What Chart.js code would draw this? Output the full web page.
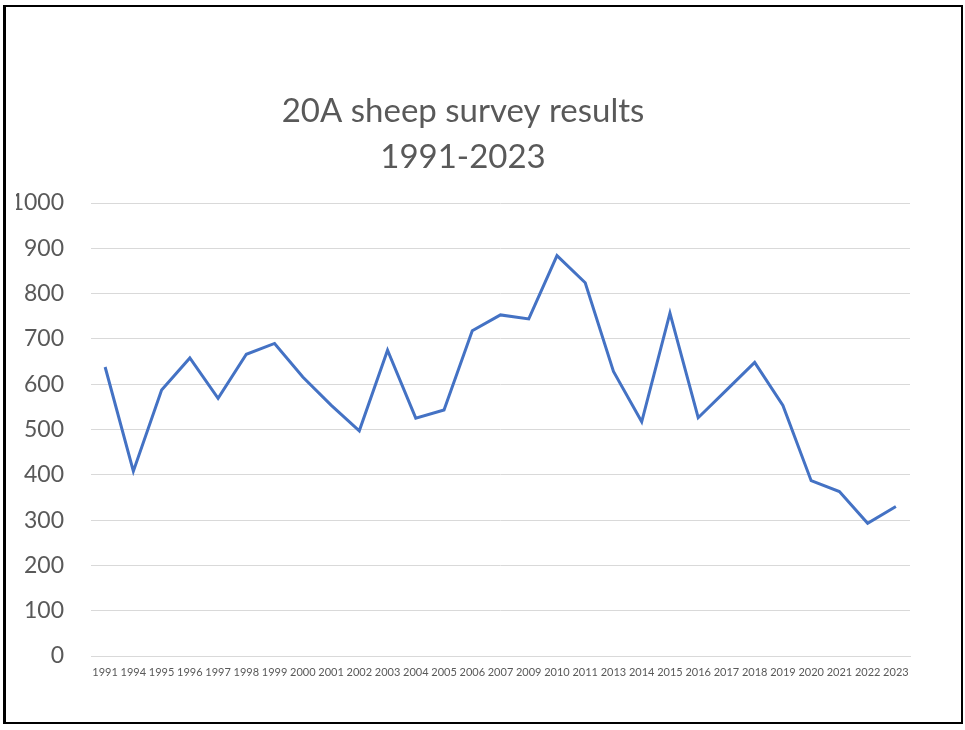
<!DOCTYPE html>
<html>
<head>
<meta charset="utf-8">
<script src="https://cdn.jsdelivr.net/npm/chart.js@4"></script>
<style>
  html, body { margin: 0; padding: 0; background: #fff; }
  #wrap { position: relative; width: 965px; height: 730px; }
  #frame { position: absolute; left: 3px; top: 5px; width: 960px; height: 719px; box-sizing: border-box; border: 2px solid #000; border-left-width: 3px; pointer-events: none; }
  canvas { position: absolute; left: 0; top: 0; }
</style>
</head>
<body>
<div id="wrap">
  <canvas id="c" width="965" height="730"></canvas>
  <div id="frame"></div>
</div>
<script>
const titleLines = ["20A sheep survey results", "1991-2023"];
const years = ["1991","1994","1995","1996","1997","1998","1999","2000","2001","2002","2003","2004","2005","2006","2007","2009","2010","2011","2013","2014","2015","2016","2017","2018","2019","2020","2021","2022","2023"];
const sheepCounts = [638,408,587,658,569,666,690,616,554,497,675,525,543,718,753,744,884,824,628,517,757,526,587,648,553,387,363,293,330];
const yTicks = [0,100,200,300,400,500,600,700,800,900,1000];

const gray = '#595959';
new Chart(document.getElementById('c'), {
  type: 'line',
  data: {
    labels: years,
    datasets: [{
      label: 'Sheep',
      data: sheepCounts,
      borderColor: '#4472C4',
      borderWidth: 3,
      pointRadius: 0,
      tension: 0,
      fill: false
    }]
  },
  options: {
    responsive: false,
    animation: false,
    layout: { padding: { left: 16, right: 55, top: 0, bottom: 0 } },
    plugins: {
      legend: { display: false },
      tooltip: { enabled: false },
      title: {
        display: true,
        text: titleLines,
        color: gray,
        font: { family: 'Lato', size: 33, weight: 'normal', lineHeight: 1.394 },
        padding: { top: 88, bottom: 23 }
      }
    },
    scales: {
      x: {
        offset: true,
        grid: { display: false, drawTicks: false },
        border: { display: true, color: '#D9D9D9', width: 1 },
        ticks: {
          color: gray,
          font: { family: 'Lato', size: 11 },
          autoSkip: false,
          maxRotation: 0,
          minRotation: 0,
          padding: 10
        },
        afterFit: (s) => { s.height = 74; }
      },
      y: {
        min: 0,
        max: 1000,
        afterBuildTicks: (s) => { s.ticks = yTicks.map(v => ({ value: v })); },
        grid: { color: '#D9D9D9', lineWidth: 1, drawTicks: false },
        border: { display: false },
        ticks: {
          color: gray,
          font: { family: 'Lato', size: 23 },
          padding: 27,
          callback: (v) => String(v)
        },
        afterFit: (s) => { s.width = 75; }
      }
    }
  }
});
</script>
</body>
</html>
